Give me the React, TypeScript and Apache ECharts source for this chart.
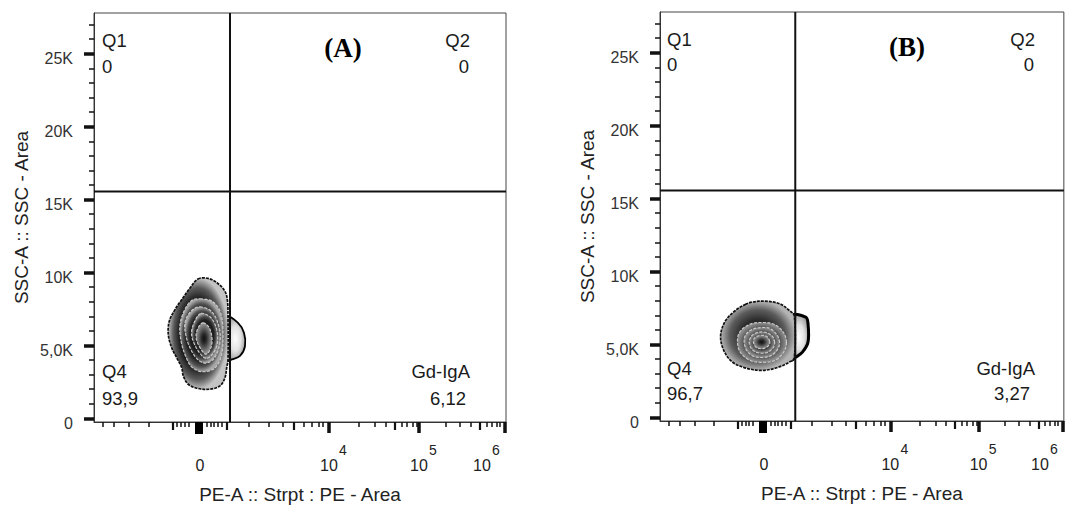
import React, { useEffect, useRef } from "react";
import * as echarts from "echarts";

// ---------- axis scales (x is in biexponential display units) ----------
const X_MIN = -106;
const X_MAX = 306;
const Y_MIN = -250;
const Y_MAX = 27800;

const yMajorTicks = [0, 5000, 10000, 15000, 20000, 25000];
const yTickLabels = ["0", "5,0K", "10K", "15K", "20K", "25K"];
const yMinorTicks = [1000, 2000, 3000, 4000, 6000, 7000, 8000, 9000, 11000, 12000, 13000, 14000, 16000, 17000, 18000, 19000, 21000, 22000, 23000, 24000, 26000, 27000];

const xMajorTicks = [0, 129, 219, 305];
const xTickBases = ["0", "10", "10", "10"];
const xTickExponents = ["", "4", "5", "6"];
const xMidTicks = [-27, 27, 94, 195, 280];
const xMinorTicks = [-97, -86, -71, -51, -23, -19, -15, -11, 7, 11, 14, 18, 22, 49, 69, 83, 104, 112, 119, 123, 159, 175, 186, 202, 207, 213, 217, 246, 260, 271, 287, 292, 297, 300];
const xZeroCluster = [-1];

// ---------- quadrant gates and statistics ----------
const quadrantNames = ["Q1", "Q2", "Q4", "Gd-IgA"];
const quadrantValuesA = ["0", "0", "93,9", "6,12"];
const quadrantValuesB = ["0", "0", "96,7", "3,27"];
const gateA = [30, 15550];
const gateB = [32, 15550];

// ---------- contour polygons [PE display, SSC-A] ----------
const contourA_bump = [[27, 6950], [38, 6550], [44, 5870], [45, 4960], [40, 4280], [32, 4050], [27, 3950]];
const contourA_1 = [[-2, 9560], [8, 9600], [17, 9300], [25, 8710], [27.5, 8030], [28, 7000], [28, 4000], [26.7, 3480], [25, 2800], [20, 2230], [10, 2000], [-2, 2050], [-11.7, 2340], [-16.7, 2910], [-18.3, 3480], [-23.3, 4160], [-28.3, 4840], [-31.7, 5750], [-30.7, 6660], [-25, 7460], [-18.3, 8140], [-10, 8940]];
const contourA_2 = [[0, 8200], [13, 8000], [21, 7150], [23, 5600], [21, 4200], [14, 3400], [2, 3200], [-8, 3500], [-14, 4200], [-19, 5300], [-20, 6450], [-15, 7500], [-8, 8100]];
const contourA_3 = [[0, 7650], [12, 7300], [19, 6300], [20, 5200], [15, 4200], [7, 3800], [-1, 3950], [-9, 4700], [-14, 5650], [-15, 6600], [-9, 7350]];
const contourA_4 = [[1, 7200], [11, 6900], [17, 6000], [17, 5000], [12, 4350], [6, 4100], [0, 4450], [-6, 5150], [-8.5, 5900], [-5, 6700]];
const contourA_5 = [[3, 6550], [9, 6250], [12, 5500], [11, 4850], [6, 4400], [0, 4850], [-4, 5550], [-2, 6200]];

const contourB_bump = [[28, 6950], [42.7, 6870], [45, 6440], [45, 5160], [39.3, 4470], [32.7, 4130], [28, 3950]];
const contourB_1 = [[-19, 7740], [-12.3, 7900], [1, 7970], [16, 7790], [26, 7330], [31, 6950], [31, 4100], [26, 3790], [14.3, 3430], [-2.3, 3220], [-20.7, 3430], [-34, 3900], [-42.3, 4820], [-44, 5730], [-39, 6640], [-29, 7330]];
const contourB_2 = [[23, 5140], [20, 5820], [11, 6370], [-2, 6510], [-15, 6370], [-25, 5820], [-27, 5140], [-24, 4450], [-14, 3900], [-2, 3770], [11, 3900], [20, 4450]];
const contourB_3 = [[16, 5140], [13, 5690], [6, 6100], [-2, 6160], [-12, 6030], [-19, 5620], [-20, 5070], [-17, 4520], [-10, 4180], [-1, 4110], [8, 4250], [14, 4660]];
const contourB_4 = [[11, 5140], [8, 5620], [-1, 5860], [-11, 5690], [-15, 5210], [-13, 4730], [-7, 4450], [2, 4420], [9, 4730]];
const contourB_5 = [[6, 5210], [3, 5550], [-4, 5620], [-10, 5410], [-10.5, 5070], [-7, 4760], [0, 4730], [5, 4930]];

const contoursA = [contourA_bump, contourA_1, contourA_2, contourA_3, contourA_4, contourA_5];
const contoursB = [contourB_bump, contourB_1, contourB_2, contourB_3, contourB_4, contourB_5];

const FONT = "'Liberation Sans', Arial, Helvetica, sans-serif";
const SERIF = "'Liberation Serif', 'Times New Roman', serif";

function rg(stops: [number, string][]) {
  return new echarts.graphic.RadialGradient(0.5, 0.5, 0.5, stops.map(([offset, color]) => ({ offset, color })));
}

function contourStyle(level: number, last: number, bumpThick: number, panel: number) {
  if (level === 0) {
    return { fill: rg([[0, "#fdfdfd"], [0.55, "#e2e2e2"], [1, "#a0a0a0"]]), stroke: "#000", lineWidth: bumpThick, lineDash: null as any };
  }
  if (level === 1) {
    const stops: [number, string][] = panel === 0
      ? [[0, "#0d0d0d"], [0.62, "#1c1c1c"], [0.82, "#5a5a5a"], [1, "#c4c4c4"]]
      : [[0, "#1a1a1a"], [0.45, "#2a2a2a"], [0.75, "#5c5c5c"], [1, "#b4b4b4"]];
    return { fill: rg(stops), stroke: "#111", lineWidth: 1.7, lineDash: [3, 1] };
  }
  if (level === last) {
    return { fill: rg([[0, "#111"], [0.3, "#2a2a2a"], [1, "#9a9a9a"]]), stroke: "#cccccc", lineWidth: 1.1, lineDash: [3, 1.5] };
  }
  const stops: [number, string][] = panel === 0
    ? [[0, "#111"], [0.7, "#1f1f1f"], [0.86, "#505050"], [1, "#a8a8a8"]]
    : [[0, "#222"], [0.6, "#333"], [1, "#939393"]];
  return { fill: rg(stops), stroke: "#cccccc", lineWidth: 1.1, lineDash: [3, 1.5] };
}

function contourSeries(contours: number[][][], gi: number, bumpThick: number) {
  return {
    type: "custom",
    xAxisIndex: gi * 4,
    yAxisIndex: gi * 2,
    clip: false,
    silent: true,
    z: 2,
    data: contours.map((c) => c[0]),
    renderItem: (params: any, api: any) => {
      const poly = contours[params.dataIndex];
      const pts = poly.map((p) => api.coord(p));
      const st = contourStyle(params.dataIndex, contours.length - 1, bumpThick, gi);
      return {
        type: "polygon",
        z2: params.dataIndex,
        shape: { points: pts, smooth: 0.35 },
        style: { fill: st.fill, stroke: st.stroke, lineWidth: st.lineWidth, lineDash: st.lineDash },
      };
    },
  };
}

function gateSeries(gate: number[], gi: number) {
  const common = {
    type: "line",
    xAxisIndex: gi * 4,
    yAxisIndex: gi * 2,
    symbol: "none",
    silent: true,
    z: 5,
    lineStyle: { color: "#111", width: 2 },
  };
  return [
    { ...common, data: [[gate[0], Y_MIN], [gate[0], Y_MAX]] },
    { ...common, data: [[X_MIN, gate[1]], [X_MAX, gate[1]]] },
  ];
}

const majorIndex = (v: number) => xMajorTicks.findIndex((t) => Math.abs(t - v) < 0.01);

function fmtBase(v: number) {
  const i = majorIndex(v);
  if (i < 0) return "";
  // the last decade label is pulled inside the frame
  if (i === xMajorTicks.length - 1) return `{b|${xTickBases[i]}}{q| }`;
  return `{b|${xTickBases[i]}}`;
}

function fmtExp(v: number) {
  const i = majorIndex(v);
  if (i < 0 || !xTickExponents[i]) return "";
  if (i === xMajorTicks.length - 1) return `{e|${xTickExponents[i]}}{r| }`;
  return `{l| }{e|${xTickExponents[i]}}`;
}

function xAxes(gi: number) {
  const base: any = {
    type: "value",
    gridIndex: gi,
    min: X_MIN,
    max: X_MAX,
    position: "bottom",
    splitLine: { show: false },
    axisLine: { show: false, onZero: false },
    axisLabel: { show: false },
  };
  return [
    {
      ...base,
      axisLine: { show: true, onZero: false, lineStyle: { color: "#333", width: 1 } },
      axisTick: { show: true, length: 11, lineStyle: { color: "#111", width: 3.5 }, customValues: xMajorTicks },
      axisLabel: {
        show: true,
        customValues: xMajorTicks,
        margin: 35,
        formatter: fmtBase,
        rich: {
          b: { fontSize: 16, color: "#222", fontFamily: FONT },
          q: { width: 46, fontSize: 16 },
        },
      },
      name: "PE-A :: Strpt : PE - Area",
      nameLocation: "middle",
      nameGap: 63,
      nameTextStyle: { fontSize: 19, color: "#222", fontFamily: FONT },
    },
    { ...base, axisTick: { show: true, length: 8, lineStyle: { color: "#111", width: 2.2 }, customValues: xMidTicks } },
    { ...base, axisTick: { show: true, length: 5, lineStyle: { color: "#111", width: 1.5 }, customValues: xMinorTicks } },
    {
      ...base,
      axisTick: { show: true, length: 12, lineStyle: { color: "#000", width: 8 }, customValues: xZeroCluster },
      axisLabel: {
        show: true,
        customValues: xMajorTicks.slice(1),
        margin: 21,
        formatter: fmtExp,
        rich: {
          e: { fontSize: 14, color: "#222", fontFamily: FONT },
          l: { width: 28, fontSize: 14 },
          r: { width: 18, fontSize: 14 },
        },
      },
    },
  ];
}

function yAxes(gi: number) {
  const base: any = {
    type: "value",
    gridIndex: gi,
    min: Y_MIN,
    max: Y_MAX,
    position: "left",
    splitLine: { show: false },
    axisLine: { show: false, onZero: false },
    axisLabel: { show: false },
  };
  return [
    {
      ...base,
      axisLine: { show: true, onZero: false, lineStyle: { color: "#333", width: 1 } },
      axisTick: { show: true, length: 10, lineStyle: { color: "#111", width: 3.5 }, customValues: yMajorTicks },
      axisLabel: {
        show: true,
        customValues: yMajorTicks,
        margin: 21,
        fontSize: 16,
        color: "#333",
        fontFamily: FONT,
        verticalAlign: "top",
        lineHeight: 10,
        formatter: (v: number) => {
          const i = yMajorTicks.findIndex((t) => Math.abs(t - v) < 0.5);
          return i >= 0 ? yTickLabels[i] : "";
        },
      },
      name: "SSC-A :: SSC - Area",
      nameLocation: "middle",
      nameGap: 63,
      nameTextStyle: { fontSize: 19, color: "#222", fontFamily: FONT },
    },
    { ...base, axisTick: { show: true, length: 5, lineStyle: { color: "#111", width: 1.5 }, customValues: yMinorTicks } },
  ];
}

function panelTexts(
  L: { left: number; right: number; top1: number; top2: number; bot1: number; bot2: number; tagX: number; tagY: number; valRight2: number; valRight4: number },
  values: string[],
  tag: string
) {
  const t = (text: string, x: number, y: number, align: string) => ({
    type: "text",
    x,
    y,
    z: 10,
    silent: true,
    style: { text, fontSize: 18.5, fontFamily: FONT, fill: "#1a1a1a", align, verticalAlign: "middle" },
  });
  return [
    t(quadrantNames[0], L.left, L.top1, "left"),
    t(values[0], L.left, L.top2, "left"),
    t(quadrantNames[1], L.right, L.top1, "right"),
    t(values[1], L.valRight2, L.top2, "right"),
    t(quadrantNames[2], L.left, L.bot1, "left"),
    t(values[2], L.left, L.bot2, "left"),
    t(quadrantNames[3], L.right, L.bot1, "right"),
    t(values[3], L.valRight4, L.bot2, "right"),
    {
      type: "text",
      x: L.tagX,
      y: L.tagY,
      z: 10,
      silent: true,
      style: { text: tag, fontSize: 27, fontWeight: "bold", fontFamily: SERIF, fill: "#000", align: "center", verticalAlign: "middle" },
    },
  ];
}

export default function App() {
  const ref = useRef<HTMLDivElement>(null);
  useEffect(() => {
    document.body.style.margin = "0";
    if (!ref.current) return;
    const chart = echarts.init(ref.current, null, { renderer: "svg" });
    const option: any = {
      animation: false,
      backgroundColor: "#fff",
      grid: [
        { left: 94, top: 13, width: 412, height: 411, show: true, borderColor: "#444", borderWidth: 1, backgroundColor: "transparent" },
        { left: 660, top: 12, width: 409, height: 409, show: true, borderColor: "#444", borderWidth: 1, backgroundColor: "transparent" },
      ],
      xAxis: [...xAxes(0), ...xAxes(1)],
      yAxis: [...yAxes(0), ...yAxes(1)],
      series: [
        contourSeries(contoursA, 0, 1.8),
        ...gateSeries(gateA, 0),
        contourSeries(contoursB, 1, 3),
        ...gateSeries(gateB, 1),
      ],
      graphic: [
        ...panelTexts({ left: 102, right: 470, top1: 40, top2: 66, bot1: 371, bot2: 398, tagX: 343, tagY: 48, valRight2: 469, valRight4: 466 }, quadrantValuesA, "(A)"),
        ...panelTexts({ left: 667, right: 1035, top1: 39, top2: 64, bot1: 368, bot2: 393, tagX: 907, tagY: 47, valRight2: 1034, valRight4: 1030 }, quadrantValuesB, "(B)"),
      ],
    };
    chart.setOption(option);
    return () => chart.dispose();
  }, []);
  return <div ref={ref} style={{ width: 1077, height: 509 }} />;
}
